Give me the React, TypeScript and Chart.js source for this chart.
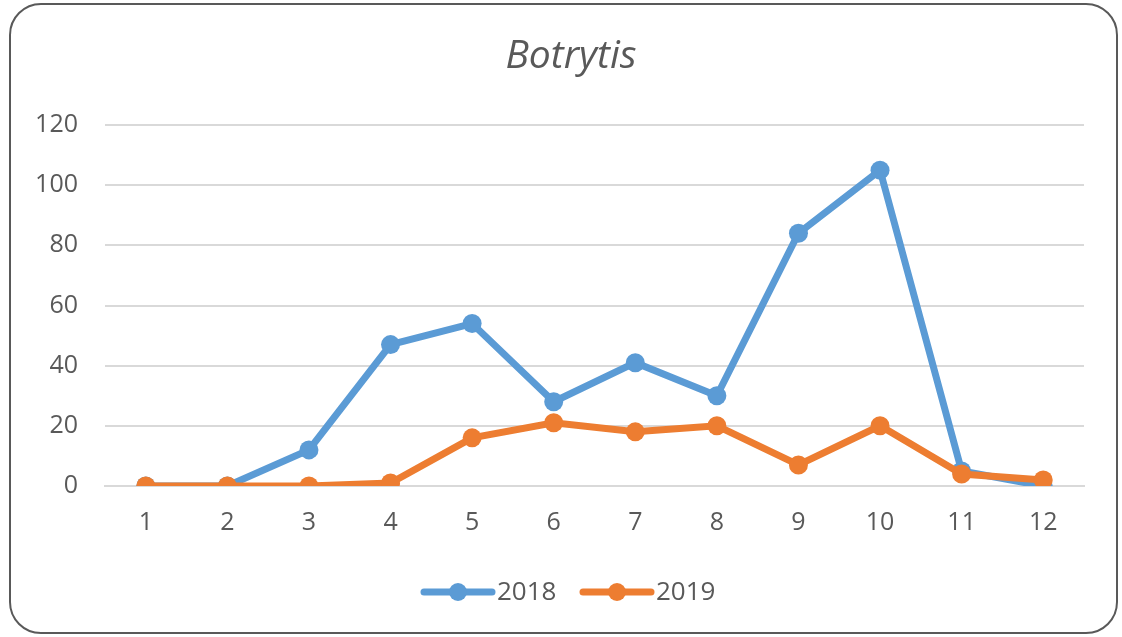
import React, { useEffect, useRef } from "react";
import { Chart, registerables } from "chart.js";

Chart.register(...registerables);

const categories: string[] = ["1", "2", "3", "4", "5", "6", "7", "8", "9", "10", "11", "12"];
const series2018: number[] = [0, 0, 12, 47, 54, 28, 41, 30, 84, 105, 5, 0];
const series2019: number[] = [0, 0, 0, 1, 16, 21, 18, 20, 7, 20, 4, 2];
const yTicks: number[] = [0, 20, 40, 60, 80, 100, 120];
const seriesNames: string[] = ["2018", "2019"];
const titleText = "Botrytis";

const BLUE = "#5B9BD5";
const ORANGE = "#ED7D31";
const TEXT = "#595959";
const FONT = "'Open Sans', sans-serif";

export default function App() {
  const ref = useRef<HTMLCanvasElement | null>(null);

  useEffect(() => {
    document.body.style.margin = "0";
    const canvas = ref.current;
    if (!canvas) return;

    const overlay = {
      id: "overlay",
      afterDraw(chart: any) {
        const ctx = chart.ctx;
        ctx.save();
        // title
        ctx.fillStyle = TEXT;
        ctx.font = `italic 39px ${FONT}`;
        ctx.textAlign = "center";
        ctx.textBaseline = "middle";
        ctx.fillText(titleText, 571, 57);
        // legend
        const colors = [BLUE, ORANGE];
        const starts = [424, 583];
        ctx.font = `26px ${FONT}`;
        ctx.textAlign = "left";
        for (let i = 0; i < seriesNames.length; i++) {
          const x0 = starts[i];
          const y = 592;
          ctx.strokeStyle = colors[i];
          ctx.lineWidth = 7;
          ctx.lineCap = "round";
          ctx.beginPath();
          ctx.moveTo(x0, y);
          ctx.lineTo(x0 + 68, y);
          ctx.stroke();
          ctx.fillStyle = colors[i];
          ctx.beginPath();
          ctx.arc(x0 + 34, y, 9, 0, Math.PI * 2);
          ctx.fill();
          ctx.fillStyle = TEXT;
          ctx.fillText(seriesNames[i], x0 + 73, y + 1);
        }
        ctx.restore();
      },
    };

    const chart = new Chart(canvas, {
      type: "line",
      data: {
        labels: categories,
        datasets: [
          {
            label: seriesNames[0],
            data: series2018,
            borderColor: BLUE,
            backgroundColor: BLUE,
            borderWidth: 7,
            pointRadius: 9.5,
            pointHoverRadius: 9.5,
            pointBorderWidth: 0,
            tension: 0,
            order: 2,
          },
          {
            label: seriesNames[1],
            data: series2019,
            borderColor: ORANGE,
            backgroundColor: ORANGE,
            borderWidth: 7,
            pointRadius: 9.5,
            pointHoverRadius: 9.5,
            pointBorderWidth: 0,
            tension: 0,
            order: 1,
          },
        ],
      },
      options: {
        responsive: false,
        animation: false,
        devicePixelRatio: 1,
        layout: { padding: { left: 20, right: 38, top: 125, bottom: 91 } },
        plugins: {
          legend: { display: false },
          title: { display: false },
          tooltip: { enabled: false },
        },
        scales: {
          x: {
            offset: true,
            grid: { display: false, drawTicks: false },
            border: { display: true, color: "#D9D9D9", width: 2 },
            ticks: { color: TEXT, font: { family: FONT, size: 25 }, padding: 22, maxRotation: 0 },
            afterFit(scale: any) {
              scale.height = 60;
            },
          },
          y: {
            min: 0,
            max: 120,
            afterBuildTicks(scale: any) {
              scale.ticks = yTicks.map((v) => ({ value: v }));
            },
            grid: { color: "#D9D9D9", lineWidth: 2, drawTicks: false },
            border: { display: false },
            ticks: { color: TEXT, font: { family: FONT, size: 25 }, padding: 27 },
            afterFit(scale: any) {
              scale.width = 85;
            },
          },
        },
      },
      plugins: [overlay],
    });

    return () => chart.destroy();
  }, []);

  return (
    <div style={{ position: "relative", width: 1122, height: 637 }}>
      <canvas ref={ref} width={1122} height={637} style={{ position: "absolute", left: 0, top: 0, width: 1122, height: 637 }} />
      <div
        style={{
          position: "absolute",
          left: 9,
          top: 3,
          width: 1109,
          height: 631,
          boxSizing: "border-box",
          border: "2px solid #595959",
          borderRadius: 32,
          pointerEvents: "none",
        }}
      />
    </div>
  );
}
